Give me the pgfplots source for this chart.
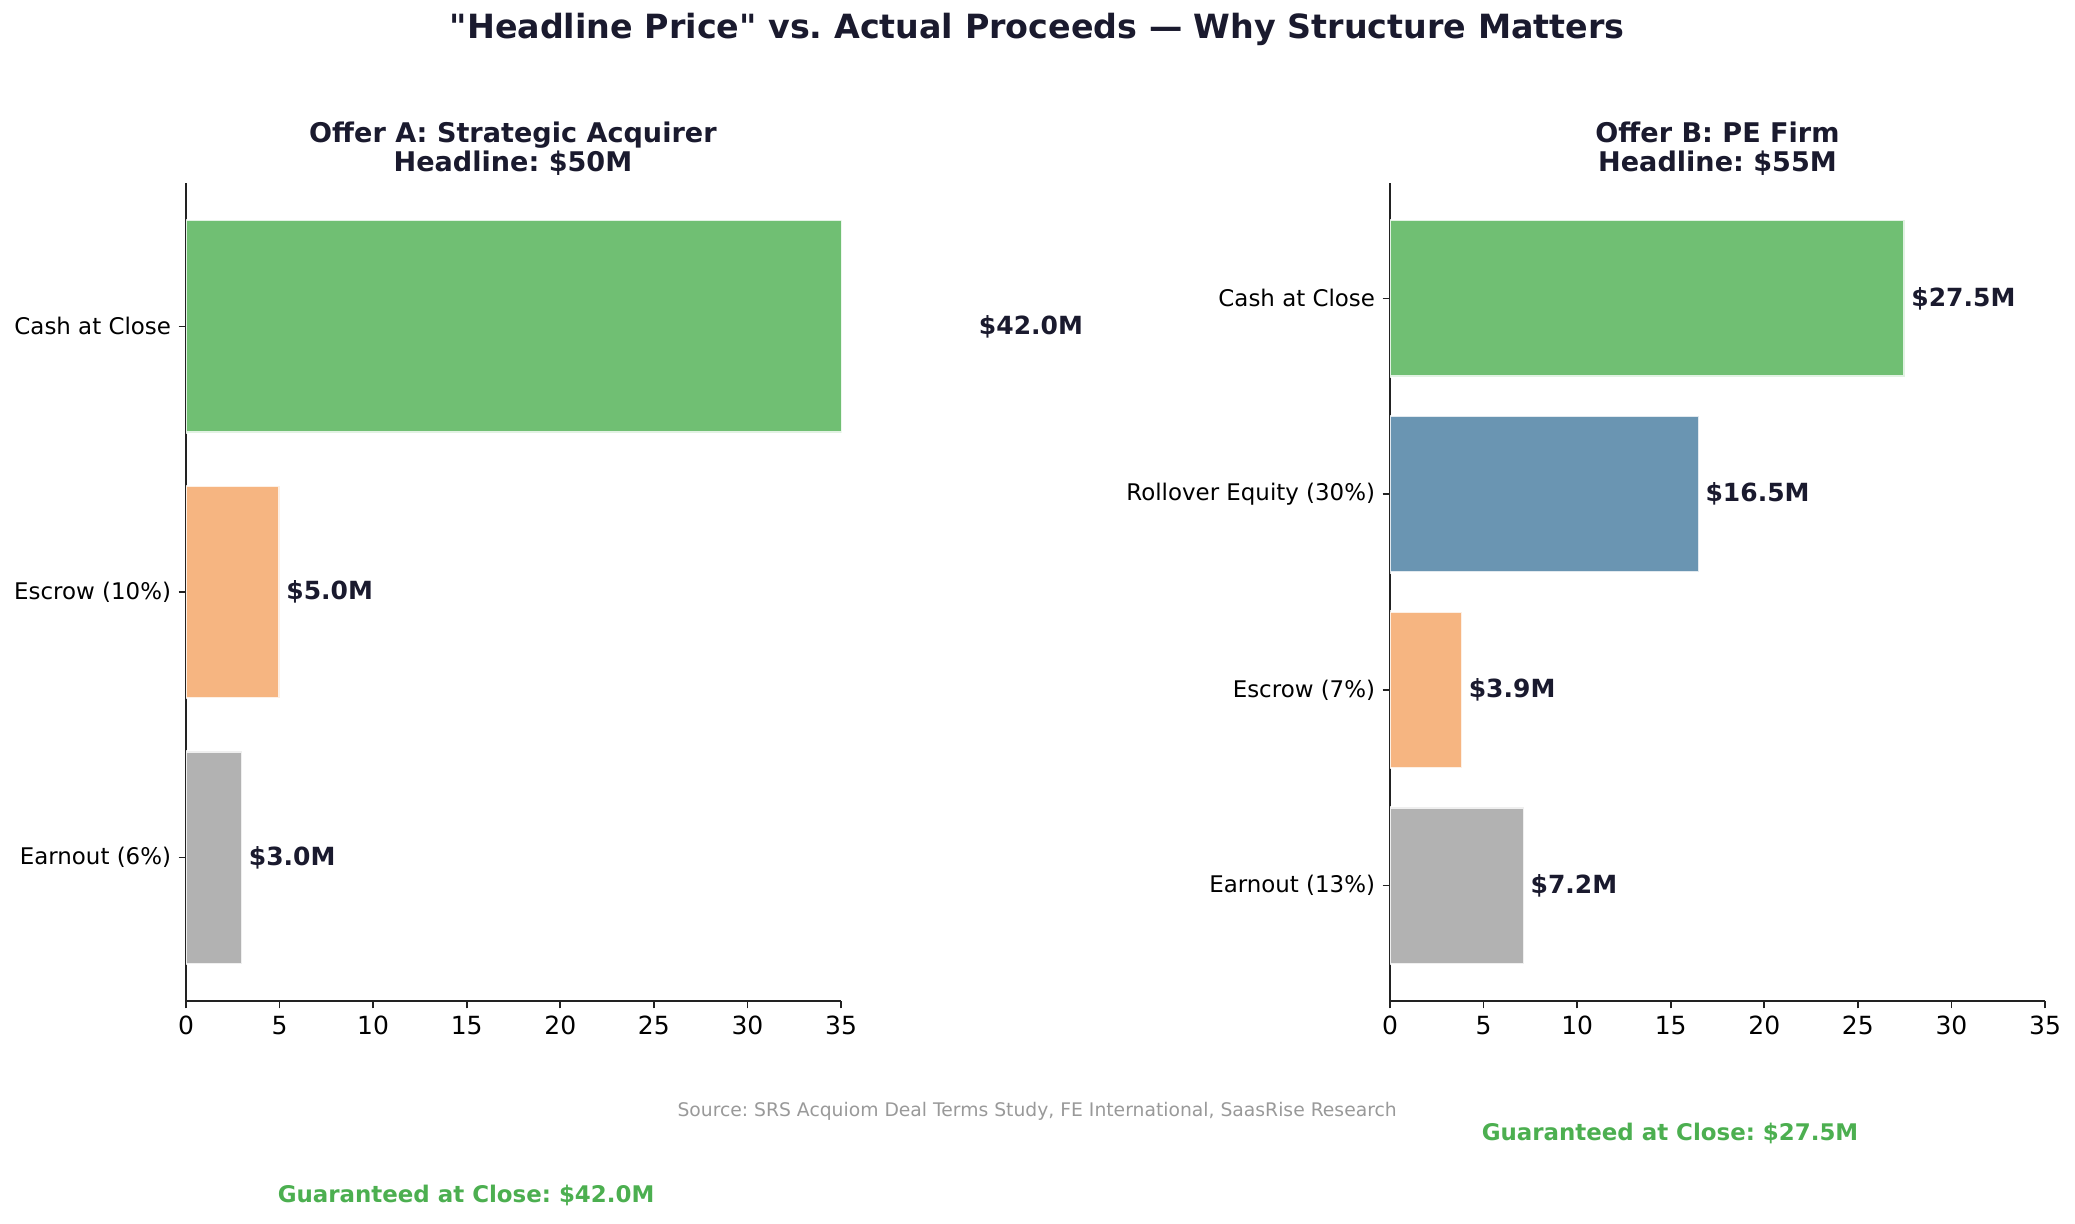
\documentclass[border=0pt]{standalone}
\usepackage{pgfplots}
\pgfplotsset{compat=1.18}
\usepackage{fontspec}
\setmainfont{DejaVu Sans}
\frenchspacing
\definecolor{cgreen}{RGB}{112,191,115}
\definecolor{corange}{RGB}{246,181,129}
\definecolor{cblue}{RGB}{106,149,178}
\definecolor{cgray}{RGB}{178,178,178}
\definecolor{dark}{RGB}{26,26,46}
\definecolor{gtext}{RGB}{76,175,80}
\definecolor{spine}{RGB}{34,34,34}
\pgfplotsset{
  offer/.style={
    anchor=south west, scale only axis, width=314.4pt, height=392.64pt,
    xmin=0, xmax=35, xtick={0,5,...,35},
    axis x line*=bottom, axis y line*=left,
    axis line style={-, spine, line width=0.8pt},
    tick style={spine, line width=0.8pt}, tick align=outside, major tick length=3.5pt,
    /pgf/number format/assume math mode=true,
    xticklabel style={font=\fontsize{12}{14}\selectfont, black, inner sep=0pt, yshift=-3.5pt},
    yticklabel style={font=\fontsize{11}{13}\selectfont, black, inner sep=0pt, xshift=-3.5pt},
    clip mode=individual,
  },
  bars/.style={xbar, bar width=0.8, bar shift=0pt, fill=#1, draw=white, draw opacity=0.8, line width=1.2pt},
}
\tikzset{val/.style={anchor=west, inner sep=0pt, font=\fontsize{12}{14}\selectfont\bfseries, text=dark}}
\begin{document}
\begin{tikzpicture}
\path[use as bounding box] (0,0) rectangle (996pt,587.04pt);
\begin{axis}[offer, at={(89.28pt,106.56pt)},
  ymin=-0.54, ymax=2.54, ytick={0,1,2},
  yticklabels={Earnout (6\%),Escrow (10\%),Cash at Close}]
\addplot[bars=cgreen] coordinates {(42.0,2)};
\addplot[bars=corange] coordinates {(5.0,1)};
\addplot[bars=cgray] coordinates {(3.0,0)};
\node[val] at (axis cs:42.35,2) {\$42.0M};
\node[val] at (axis cs:5.34,1) {\$5.0M};
\node[val] at (axis cs:3.34,0) {\$3.0M};
\end{axis}
\begin{axis}[offer, at={(667.2pt,106.56pt)},
  ymin=-0.59, ymax=3.59, ytick={0,1,2,3},
  yticklabels={Earnout (13\%),Escrow (7\%),Rollover Equity (30\%),Cash at Close}]
\addplot[bars=cgreen] coordinates {(27.5,3)};
\addplot[bars=cblue] coordinates {(16.5,2)};
\addplot[bars=corange] coordinates {(3.85,1)};
\addplot[bars=cgray] coordinates {(7.15,0)};
\node[val] at (axis cs:27.84,3) {\$27.5M};
\node[val] at (axis cs:16.84,2) {\$16.5M};
\node[val] at (axis cs:4.19,1) {\$3.9M};
\node[val] at (axis cs:7.49,0) {\$7.2M};
\end{axis}
\node[font=\fontsize{16}{19}\selectfont\bfseries, text=dark] at (497.8pt,573.1pt) {\textquotedbl Headline Price\textquotedbl{} vs. Actual Proceeds — Why Structure Matters};
\node[font=\fontsize{13}{13.9}\selectfont\bfseries, text=dark, align=center] at (246.2pt,515.8pt) {Offer A: Strategic Acquirer\\Headline: \$50M};
\node[font=\fontsize{13}{13.9}\selectfont\bfseries, text=dark, align=center] at (824.4pt,515.8pt) {Offer B: PE Firm\\Headline: \$55M};
\node[font=\fontsize{9}{11}\selectfont, text=black!40] at (497.8pt,53.8pt) {Source: SRS Acquiom Deal Terms Study, FE International, SaasRise Research};
\node[font=\fontsize{11}{13}\selectfont\bfseries, text=gtext] at (223.7pt,13.4pt) {Guaranteed at Close: \$42.0M};
\node[font=\fontsize{11}{13}\selectfont\bfseries, text=gtext] at (801.6pt,43.2pt) {Guaranteed at Close: \$27.5M};
\end{tikzpicture}
\end{document}
